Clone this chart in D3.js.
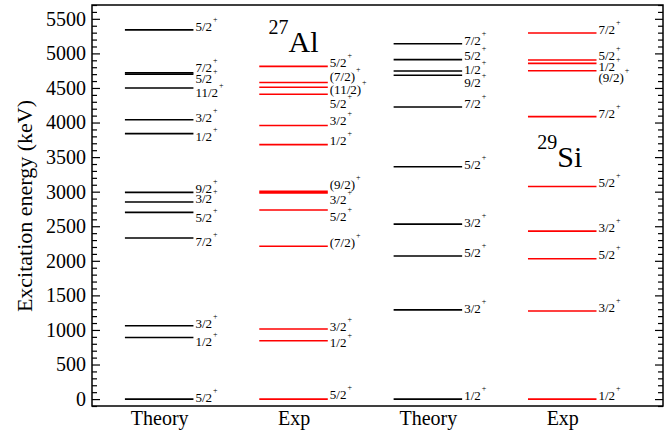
<!DOCTYPE html>
<html>
<head>
<meta charset="utf-8">
<script src="https://cdn.jsdelivr.net/npm/d3@7"></script>
<style>
  body { margin: 0; background: #fff; }
</style>
</head>
<body>
<div id="chart"></div>
<script>
// column names along the bottom
var columns = ["Theory", "Exp", "Theory", "Exp"];

// 27Al theory (keV), spins, and where each label sits (keV)
var alTheoryE = [0, 890, 1060, 2330, 2700, 2850, 2990, 3840, 4040, 4500, 4700, 4720, 5340];
var alTheoryJ = ["5/2", "1/2", "3/2", "7/2", "5/2", "3/2", "9/2", "1/2", "3/2", "11/2", "5/2", "7/2", "5/2"];
var alTheoryL = [-38, 772, 1023, 2212, 2564, 2829, 2974, 3730, 4009, 4366, 4568, 4731, 5324];

// 27Al experiment
var alExpE = [0, 844, 1014, 2211, 2735, 2982, 3004, 3680, 3957, 4410, 4510, 4580, 4812];
var alExpJ = ["5/2", "1/2", "3/2", "(7/2)", "5/2", "3/2", "(9/2)", "1/2", "3/2", "5/2", "(11/2)", "(7/2)", "5/2"];
var alExpL = [-3, 757, 988, 2202, 2581, 2819, 3032, 3672, 3961, 4217, 4409, 4601, 4803];

// 29Si theory
var siTheoryE = [0, 1290, 2070, 2530, 3360, 4225, 4685, 4745, 4910, 5140];
var siTheoryJ = ["1/2", "3/2", "5/2", "3/2", "5/2", "7/2", "9/2", "1/2", "5/2", "7/2"];
var siTheoryL = [-13, 1249, 2049, 2491, 3335, 4217, 4510, 4698, 4900, 5117];

// 29Si experiment
var siExpE = [0, 1275, 2030, 2430, 3075, 4085, 4750, 4855, 4905, 5295];
var siExpJ = ["1/2", "3/2", "5/2", "3/2", "5/2", "7/2", "(9/2)", "1/2", "5/2", "7/2"];
var siExpL = [-13, 1263, 2020, 2419, 3069, 4072, 4582, 4741, 4910, 5286];

// nucleus names: [column, keV, mass, symbol]
var nuclei = [[1, 5020, "27", "Al"], [3, 3360, "29", "Si"]];

var yTicks = d3.range(0, 5501, 500);

var W = 672, H = 434;
var FONT = "Liberation Serif, DejaVu Serif, serif";
var x = d3.scaleLinear().domain([-0.5, 3.75]).range([92, 663]);
var y = d3.scaleLinear().domain([-100, 5700]).range([406, 5]);
var halfW = 0.255; // half a level line, in column units

var sets = [
  { col: 0, color: "#000", E: alTheoryE, J: alTheoryJ, L: alTheoryL },
  { col: 1, color: "#ff0000", E: alExpE, J: alExpJ, L: alExpL },
  { col: 2, color: "#000", E: siTheoryE, J: siTheoryJ, L: siTheoryL },
  { col: 3, color: "#ff0000", E: siExpE, J: siExpJ, L: siExpL }
];

var svg = d3.select("#chart").append("svg")
  .attr("width", W).attr("height", H)
  .attr("font-family", FONT);

// minor ticks left + right
var minor = d3.range(-100, 5701, 100).filter(function(v) { return v % 500 !== 0 || v < 0; });
svg.append("g").attr("transform", "translate(" + x(-0.5) + ",0)")
  .call(d3.axisLeft(y).tickValues(minor).tickSize(-5).tickSizeOuter(0).tickFormat(""))
  .call(function(g) { g.select(".domain").remove(); });
svg.append("g").attr("transform", "translate(" + x(3.75) + ",0)")
  .call(d3.axisRight(y).tickValues(minor).tickSize(-5).tickSizeOuter(0).tickFormat(""))
  .call(function(g) { g.select(".domain").remove(); });

// major ticks
var yAxis = svg.append("g").attr("transform", "translate(" + x(-0.5) + ",0)")
  .call(d3.axisLeft(y).tickValues(yTicks).tickSize(-8).tickSizeOuter(0).tickPadding(6)
    .tickFormat(d3.format("d")));
yAxis.select(".domain").remove();
yAxis.attr("font-family", FONT).attr("font-size", 20);
yAxis.selectAll("text").attr("fill", "#000");
svg.append("g").attr("transform", "translate(" + x(3.75) + ",0)")
  .call(d3.axisRight(y).tickValues(yTicks).tickSize(-8).tickSizeOuter(0).tickFormat(""))
  .call(function(g) { g.select(".domain").remove(); });
svg.selectAll(".tick line").attr("stroke", "#000").attr("stroke-width", 1.2);

// bottom labels
var xAxis = svg.append("g").attr("transform", "translate(0," + y(-100) + ")")
  .call(d3.axisBottom(x).tickValues([0, 1, 2, 3]).tickSize(0).tickPadding(5)
    .tickFormat(function(i) { return columns[i]; }));
xAxis.select(".domain").remove();
xAxis.attr("font-family", FONT).attr("font-size", 20);
xAxis.selectAll("text").attr("fill", "#000");

// frame
svg.append("rect")
  .attr("x", x(-0.5)).attr("y", y(5700))
  .attr("width", x(3.75) - x(-0.5)).attr("height", y(-100) - y(5700))
  .attr("fill", "none").attr("stroke", "#000").attr("stroke-width", 1.5);

// y title
svg.append("text")
  .attr("transform", "translate(32," + 206 + ") rotate(-90)")
  .attr("text-anchor", "middle")
  .attr("font-size", 22)
  .text("Excitation energy (keV)");

// levels
sets.forEach(function(s) {
  var g = svg.append("g");
  g.selectAll("line").data(s.E).enter().append("line")
    .attr("x1", x(s.col - halfW)).attr("x2", x(s.col + halfW))
    .attr("y1", function(d) { return y(d); })
    .attr("y2", function(d) { return y(d); })
    .attr("stroke", s.color).attr("stroke-width", 1.6);

  var lab = g.selectAll("text").data(s.J).enter().append("text")
    .attr("x", x(s.col + halfW) + 2)
    .attr("y", function(d, i) { return y(s.L[i]); })
    .attr("font-size", 13);
  lab.append("tspan").text(function(d) { return d; });
  lab.append("tspan").attr("font-size", 8).attr("dx", 1).attr("dy", -9).text("+");
});

// nucleus names
nuclei.forEach(function(n) {
  var t = svg.append("text")
    .attr("x", x(n[0]) - 25).attr("y", y(n[1]));
  t.append("tspan").attr("font-size", 20).attr("dy", -18).text(n[2]);
  t.append("tspan").attr("font-size", 30).attr("dy", 18).text(n[3]);
});
</script>
</body>
</html>
